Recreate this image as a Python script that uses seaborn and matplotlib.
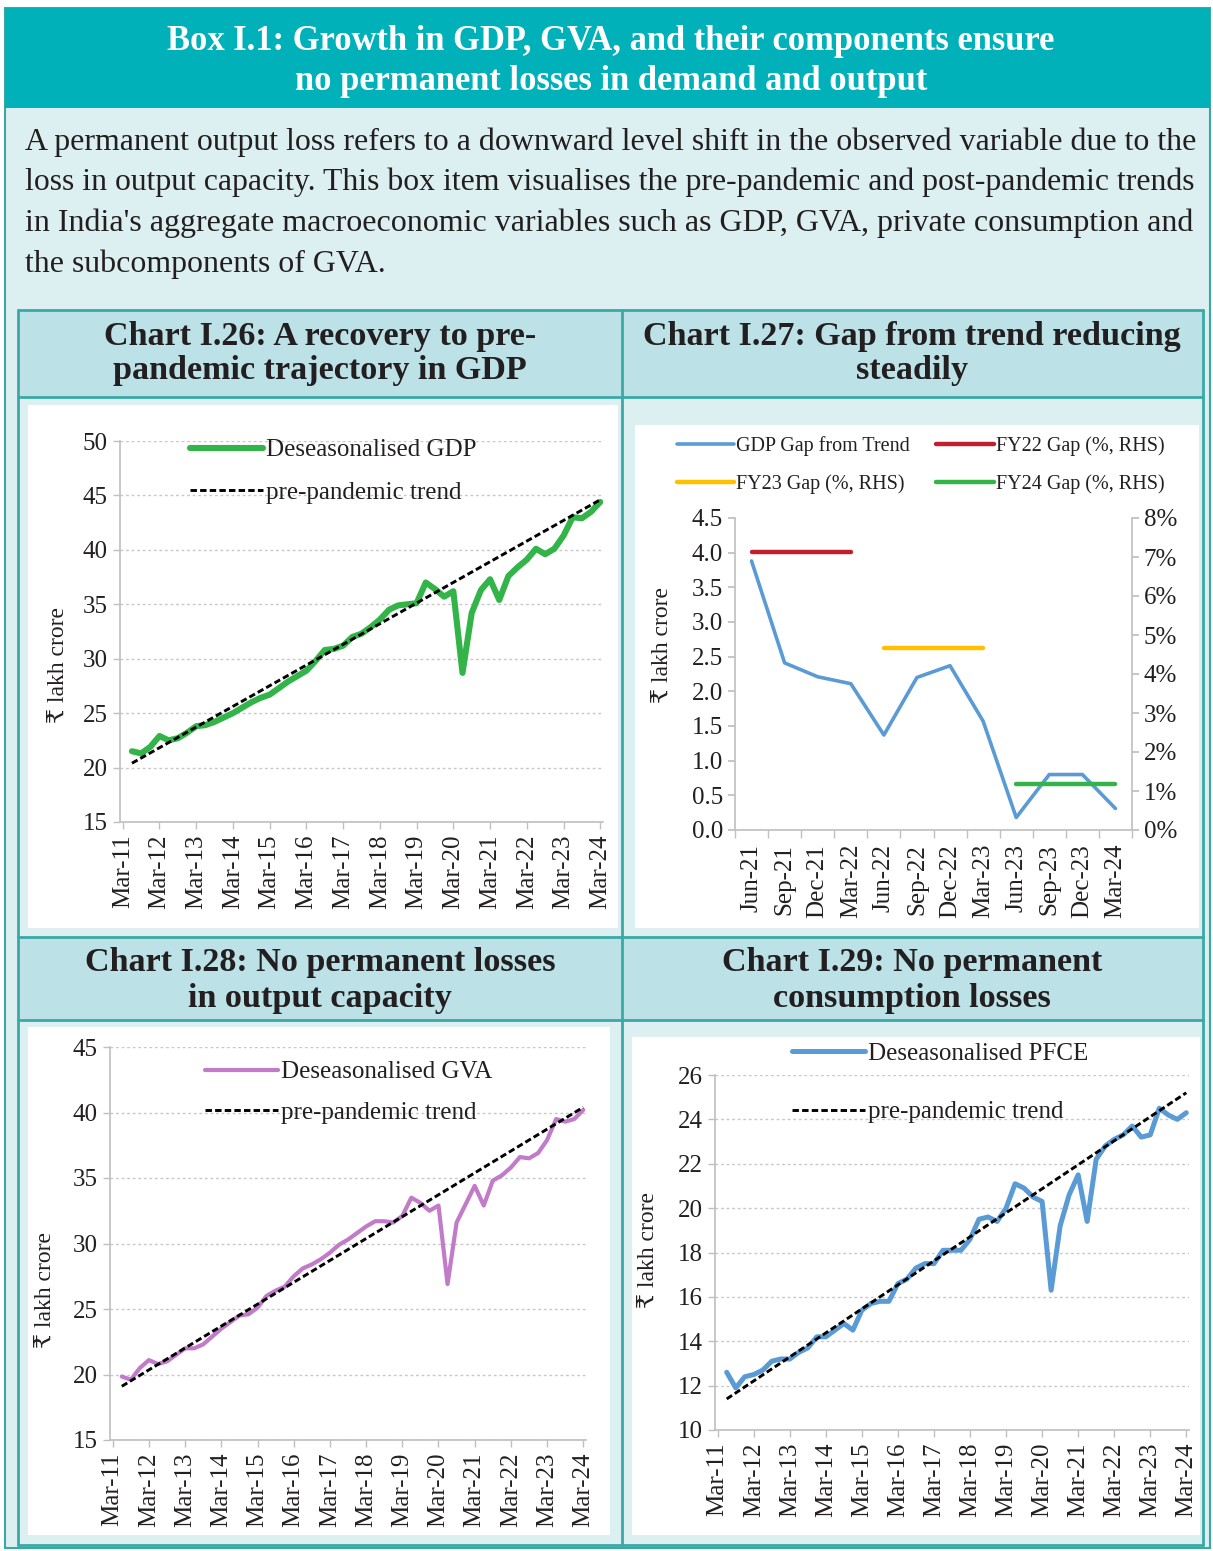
import numpy as np
import pandas as pd
import seaborn as sns
import matplotlib
matplotlib.use('Agg')
import matplotlib.pyplot as plt
from matplotlib.patches import Rectangle
from matplotlib.ticker import FuncFormatter

# Data
year_labels = ['Mar-11', 'Mar-12', 'Mar-13', 'Mar-14', 'Mar-15', 'Mar-16', 'Mar-17',
               'Mar-18', 'Mar-19', 'Mar-20', 'Mar-21', 'Mar-22', 'Mar-23', 'Mar-24']

# quarterly, Jun-11 .. Mar-24 (52 quarters)
gdp = [21.5, 21.3, 21.9, 22.9, 22.5, 22.7, 23.2, 23.8, 23.9, 24.2,
       24.6, 25.0, 25.5, 26.0, 26.4, 26.7, 27.3, 27.9, 28.4, 28.9,
       29.8, 30.8, 30.9, 31.2, 32.0, 32.3, 32.9, 33.6, 34.5, 34.9,
       35.0, 35.1, 37.0, 36.4, 35.7, 36.2, 28.7, 34.2, 36.3, 37.3,
       35.4, 37.6, 38.4, 39.1, 40.1, 39.6, 40.1, 41.3, 43.0, 42.9, 43.5, 44.4]
gdp_trend = [20.4, 44.6]

gva = [19.85, 19.6, 20.5, 21.1, 20.8, 21.0, 21.5, 22.0, 22.0, 22.3,
       22.9, 23.5, 24.0, 24.5, 24.6, 25.1, 26.0, 26.4, 26.7, 27.5,
       28.1, 28.4, 28.8, 29.3, 29.9, 30.3, 30.8, 31.3, 31.7, 31.7,
       31.6, 32.1, 33.5, 33.1, 32.5, 32.9, 26.9, 31.6, 33.0, 34.4,
       32.9, 34.8, 35.2, 35.8, 36.6, 36.5, 36.9, 37.9, 39.5, 39.3, 39.5, 40.2]
gva_trend = [19.1, 40.4]

pfce = [12.6, 11.9, 12.4, 12.5, 12.7, 13.1, 13.2, 13.2, 13.5, 13.7,
        14.2, 14.2, 14.5, 14.8, 14.5, 15.4, 15.7, 15.8, 15.8, 16.6,
        16.8, 17.3, 17.5, 17.5, 18.1, 18.1, 18.1, 18.6, 19.5, 19.6,
        19.4, 20.0, 21.1, 20.9, 20.5, 20.3, 16.3, 19.2, 20.6, 21.5,
        19.4, 22.2, 22.8, 23.1, 23.3, 23.7, 23.2, 23.3, 24.5, 24.2, 24.0, 24.3]
pfce_trend = [11.4, 25.2]

gap_quarters = ['Jun-21', 'Sep-21', 'Dec-21', 'Mar-22', 'Jun-22', 'Sep-22',
                'Dec-22', 'Mar-23', 'Jun-23', 'Sep-23', 'Dec-23', 'Mar-24']
gdp_gap = [3.88, 2.41, 2.21, 2.11, 1.37, 2.20, 2.37, 1.57, 0.18, 0.80, 0.80, 0.31]
fy_names = ['FY22', 'FY23', 'FY24']
fy_gap_pct = [7.12, 4.66, 1.19]

box_title = ['Box I.1: Growth in GDP, GVA, and their components ensure',
             'no permanent losses in demand and output']
intro = ["A permanent output loss refers to a downward level shift in the observed variable due to the",
         "loss in output capacity. This box item visualises the pre-pandemic and post-pandemic trends",
         "in India's aggregate macroeconomic variables such as GDP, GVA, private consumption and",
         "the subcomponents of GVA."]

# Style
sns.set_theme(style='white')
plt.rcParams['font.family'] = ['Liberation Serif', 'DejaVu Serif', 'DejaVu Sans']
plt.rcParams['axes.unicode_minus'] = False

TEAL = '#00B1B9'
BODY = '#DCEFF1'
HEAD = '#BCE2E7'
EDGE = '#3AA9A6'
INK = '#231F20'
GRID = '#C8C8C8'
AXC = '#BFBFBF'

W, H = 1213, 1551
fig = plt.figure(figsize=(W / 100, H / 100), dpi=100)
fig.patch.set_facecolor('white')
renderer = fig.canvas.get_renderer()


def fx(x):
    return x / W


def fy(y):
    return 1 - y / H


def rect(x0, y0, x1, y1, fc, ec='none', lw=0, z=-5):
    fig.add_artist(Rectangle((fx(x0), fy(y1)), (x1 - x0) / W, (y1 - y0) / H,
                             transform=fig.transFigure, fc=fc, ec=ec, lw=lw, zorder=z))


def hline(x0, x1, y, lw=2):
    fig.add_artist(plt.Line2D([fx(x0), fx(x1)], [fy(y), fy(y)], transform=fig.transFigure,
                              color=EDGE, lw=lw, zorder=-1))


def vline(x, y0, y1, lw=2):
    fig.add_artist(plt.Line2D([fx(x), fx(x)], [fy(y0), fy(y1)], transform=fig.transFigure,
                              color=EDGE, lw=lw, zorder=-1))


def fit_text(x, y, s, width, size=20, **kw):
    t = fig.text(fx(x), fy(y), s, fontsize=size, va='center', **kw)
    w = t.get_window_extent(renderer).width
    t.set_fontsize(size * width / w)
    return t


def axes_px(x0, y0, x1, y1):
    ax = fig.add_axes([fx(x0), fy(y1), (x1 - x0) / W, (y1 - y0) / H])
    ax.patch.set_visible(False)
    return ax


# Background boxes
rect(5, 8, 1210, 1548, BODY, ec=EDGE, lw=1.5, z=-10)
rect(5, 8, 1210, 108, TEAL, z=-9)
rect(18, 310, 1203, 397, HEAD, z=-8)
rect(18, 937, 1203, 1020, HEAD, z=-8)
rect(28, 405, 618, 928, 'white', z=-8)
rect(635, 425, 1199, 928, 'white', z=-8)
rect(28, 1027, 610, 1535, 'white', z=-8)
rect(632, 1037, 1200, 1535, 'white', z=-8)
for yy in [310, 397, 937, 1020, 1545]:
    hline(18, 1203, yy)
for xx in [18, 622, 1203]:
    vline(xx, 310, 1545)

# Header text
t = fit_text(611, 41, box_title[0], 888, color='white', fontweight='bold', ha='center')
fig.text(fx(611), fy(81), box_title[1], color='white', fontweight='bold', ha='center',
         va='center', fontsize=t.get_fontsize())

sizes = []
for i, line in enumerate(intro[:3]):
    tt = fit_text(25, 142 + i * 40.7, line, 1170, color=INK, ha='left')
    sizes.append(tt.get_fontsize())
fig.text(fx(25), fy(264), intro[3], color=INK, ha='left', va='center', fontsize=np.mean(sizes))

# Chart titles
ct = fit_text(912, 336, 'Chart I.27: Gap from trend reducing', 540, color=INK,
              fontweight='bold', ha='center')
cs = ct.get_fontsize()
for x, y, s in [(320, 336, 'Chart I.26: A recovery to pre-'),
                (320, 371, 'pandemic trajectory in GDP'),
                (912, 371, 'steadily'),
                (320, 963, 'Chart I.28: No permanent losses'),
                (320, 998, 'in output capacity'),
                (912, 963, 'Chart I.29: No permanent'),
                (912, 998, 'consumption losses')]:
    fig.text(fx(x), fy(y), s, color=INK, fontweight='bold', ha='center', va='center', fontsize=cs)

TICK = 18


def style_ts(ax, ylo, yhi, step):
    ax.set_ylim(ylo, yhi)
    ax.set_yticks(np.arange(ylo, yhi + 0.01, step))
    ax.set_xlim(-0.3, 52.3)
    ax.set_xticks(range(0, 53, 4))
    ax.set_xticklabels(year_labels, rotation=90)
    ax.tick_params(axis='both', colors=AXC, labelcolor=INK, labelsize=TICK, length=5,
                   width=1, direction='out', bottom=True, left=True, pad=4)
    ax.yaxis.grid(True, color=GRID, linestyle=(0, (2, 2)), lw=1)
    for s in ['top', 'right']:
        ax.spines[s].set_visible(False)
    for s in ['left', 'bottom']:
        ax.spines[s].set_color(AXC)
        ax.spines[s].set_linewidth(1.2)
    ax.set_xlabel('')
    ax.set_ylabel('')


def ts_chart(box, values, trend, color, lw, label, ylim, step, leg_xy, spacing, ylab_xy):
    x0, y0, x1, y1 = box
    ax = axes_px(x0, y0, x1, y1)
    q = np.arange(1, len(values) + 1)
    df = pd.DataFrame({'q': q, 'v': values})
    sns.lineplot(data=df, x='q', y='v', ax=ax, color=color, lw=lw, label=label)
    tr = pd.DataFrame({'q': [q[0], q[-1]], 'v': trend})
    sns.lineplot(data=tr, x='q', y='v', ax=ax, color='black', lw=2.1, label='pre-pandemic trend')
    ax.lines[-1].set_dashes((2.2, 1.1))
    style_ts(ax, ylim[0], ylim[1], step)
    ax.legend(loc='upper left', bbox_to_anchor=(fx(leg_xy[0]), fy(leg_xy[1])),
              bbox_transform=fig.transFigure, frameon=False, fontsize=18,
              handlelength=2.9, handletextpad=0.15, labelspacing=spacing,
              borderpad=0, borderaxespad=0, labelcolor=INK)
    fig.text(fx(ylab_xy[0]), fy(ylab_xy[1]), '₹ lakh crore', rotation=90, ha='center',
             va='center', fontsize=17, color=INK)
    return ax


ts_chart((120, 441, 603, 822), gdp, gdp_trend, '#33B449', 4.4, 'Deseasonalised GDP',
         (15, 50), 5, (190, 439), 0.8, (58, 665))
ts_chart((110, 1047, 586, 1440), gva, gva_trend, '#C27BC8', 3.0, 'Deseasonalised GVA',
         (15, 45), 5, (205, 1061), 0.7, (45, 1290))
ts_chart((715, 1075, 1189, 1430), pfce, pfce_trend, '#5B9BD5', 3.6, 'Deseasonalised PFCE',
         (10, 26), 2, (792, 1042), 1.45, (648, 1250))

# Chart I.27
ax = axes_px(735, 518, 1132, 830)
ax2 = ax.twinx()
ax2.patch.set_visible(False)
idx = np.arange(len(gap_quarters))
sns.lineplot(x=idx, y=gdp_gap, ax=ax, color='#5B9BD5', lw=2.6, label='GDP Gap from Trend')
fy_colors = ['#C0202E', '#FFC000', '#33B449']
for k, (name, val) in enumerate(zip(fy_names, fy_gap_pct)):
    xs = idx[4 * k:4 * k + 4]
    sns.lineplot(x=xs, y=[val] * len(xs), ax=ax2, color=fy_colors[k], lw=3.2,
                 label=name + ' Gap (%, RHS)')
ax.set_xlim(-0.5, 11.5)
ax.set_ylim(0, 4.5)
ax.set_yticks(np.arange(0, 4.51, 0.5))
ax.yaxis.set_major_formatter(FuncFormatter(lambda v, p: f'{v:.1f}'))
ax2.set_ylim(0, 8)
ax2.set_yticks(range(0, 9))
ax2.yaxis.set_major_formatter(FuncFormatter(lambda v, p: f'{v:.0f}%'))
ax.set_xticks(idx)
ax.set_xticklabels(gap_quarters, rotation=90)
ax.set_xticks(np.arange(-0.5, 12, 1), minor=True)
ax.tick_params(axis='x', which='major', length=0, labelsize=TICK, labelcolor=INK, pad=10)
ax.tick_params(axis='x', which='minor', length=6, color=AXC, direction='out', bottom=True)
ax.tick_params(axis='y', length=5, color=AXC, labelcolor=INK, labelsize=TICK, left=True)
ax2.tick_params(axis='y', length=5, color=AXC, labelcolor=INK, labelsize=TICK, right=True)
for a in (ax, ax2):
    for s in a.spines.values():
        s.set_color(AXC)
        s.set_linewidth(1.2)
    a.spines['top'].set_visible(False)
    a.set_xlabel('')
    a.set_ylabel('')
ax.spines['right'].set_visible(False)
ax2.spines['left'].set_visible(False)
ax2.spines['bottom'].set_visible(False)
h1, l1 = ax.get_legend_handles_labels()
h2, l2 = ax2.get_legend_handles_labels()
ax.get_legend().remove()
ax2.get_legend().remove()
hs = [h1[0], h2[1], h2[0], h2[2]]
ls = [l1[0], l2[1], l2[0], l2[2]]
ax2.legend(hs, ls, ncol=2, loc='upper left', bbox_to_anchor=(fx(677), fy(436)),
           bbox_transform=fig.transFigure, frameon=False, fontsize=14.5,
           handlelength=2.85, handletextpad=0.1, labelspacing=0.9, columnspacing=1.3,
           borderpad=0, borderaxespad=0, labelcolor=INK)
fig.text(fx(662), fy(645), '₹ lakh crore', rotation=90, ha='center', va='center',
         fontsize=17, color=INK)

fig.savefig('out.png', dpi=100, facecolor='white')
